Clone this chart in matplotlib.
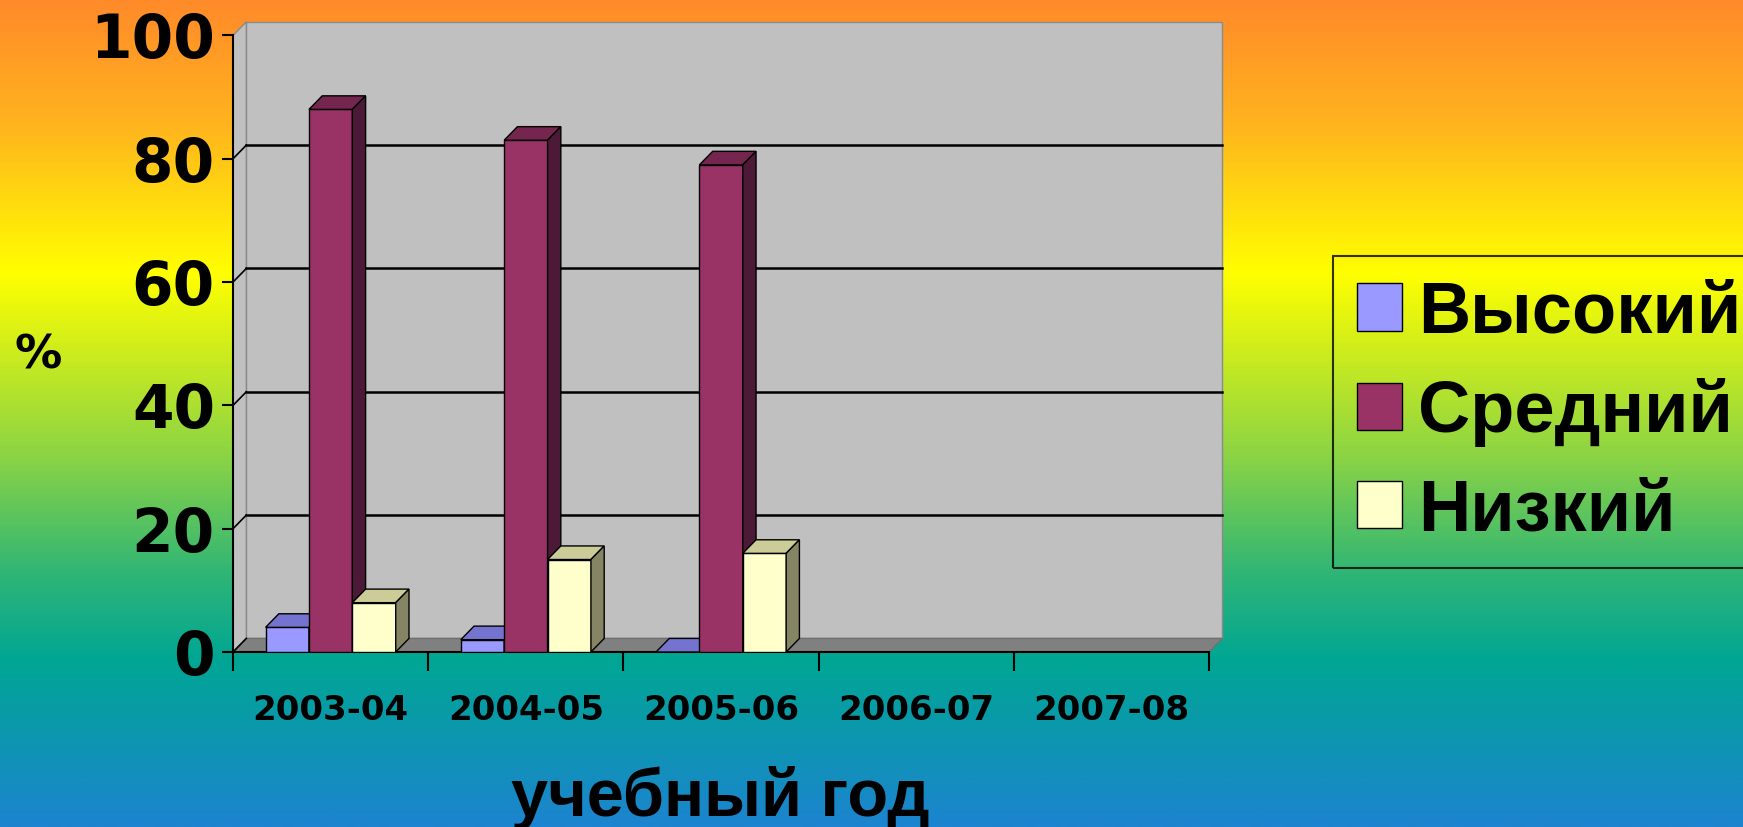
import numpy as np
import matplotlib
matplotlib.use("Agg")
import matplotlib.pyplot as plt
from matplotlib.colors import LinearSegmentedColormap
from matplotlib.patches import Polygon, Rectangle

# --- data ---
years = ["2003-04", "2004-05", "2005-06", "2006-07", "2007-08"]
series_names = ["Высокий", "Средний", "Низкий"]
high = [4, 2, 0, np.nan, np.nan]
medium = [88, 83, 79, np.nan, np.nan]
low = [8, 15, 16, np.nan, np.nan]
y_ticks = [0, 20, 40, 60, 80, 100]

# --- style ---
front_colors = ["#9999FF", "#993366", "#FFFFCC"]
top_colors = ["#7474D0", "#74264E", "#CCCC99"]
side_colors = ["#5C5CA8", "#4C1A36", "#858566"]
wall_color = "#C0C0C0"
floor_color = "#808080"
bg_stops = [(0.0, "#FF8A2A"), (0.15, "#FFB41E"), (0.33, "#FFFF00"),
            (0.55, "#8CD444"), (0.7, "#2CB478"), (0.8, "#00A694"),
            (1.0, "#1C84D0")]

dx, dy = 0.068, 2.2
bar_w = 1.0 / 3 * (1 - 1 / 3)  # three bars, 50% gap

plt.rcParams["font.family"] = ["Liberation Sans", "DejaVu Sans"]
plt.rcParams["font.weight"] = "bold"
wide = ["DejaVu Sans"]

fig = plt.figure(figsize=(17.43, 8.27), dpi=100)

# gradient background
bg = fig.add_axes([0, 0, 1, 1], zorder=-10)
cmap = LinearSegmentedColormap.from_list("bg", bg_stops)
bg.imshow(np.linspace(0, 1, 512).reshape(-1, 1), aspect="auto", cmap=cmap,
          extent=[0, 1, 0, 1])
bg.axis("off")

ax = fig.add_axes([0.1337, 0.2116, 0.56, 0.762])
ax.set_facecolor("none")
n = len(years)
x0, x1 = -0.5, n - 0.5
ymax = y_ticks[-1]
ax.set_xlim(x0, x1)
ax.set_ylim(0, ymax + dy)

# walls and floor
ax.add_patch(Rectangle((x0 + dx, dy), x1 - x0, ymax, facecolor=wall_color,
                       edgecolor="#8A8A8A", lw=1, zorder=0, clip_on=False))
ax.add_patch(Polygon([(x0, 0), (x0, ymax), (x0 + dx, ymax + dy), (x0 + dx, dy)],
                     closed=True, facecolor=wall_color, edgecolor="#8A8A8A",
                     lw=1, zorder=0, clip_on=False))
ax.add_patch(Polygon([(x0, 0), (x1, 0), (x1 + dx, dy), (x0 + dx, dy)],
                     closed=True, facecolor=floor_color, edgecolor="#707070",
                     lw=1, zorder=0.5, clip_on=False))
for t in y_ticks[1:-1]:
    ax.plot([x0 + dx, x1 + dx], [t + dy, t + dy], color="black", lw=1.8,
            zorder=0.6, clip_on=False)
for t in y_ticks[:-1]:
    ax.plot([x0, x0 + dx], [t, t + dy], color="black", lw=1.2, zorder=0.6,
            clip_on=False)

# bars
x = np.arange(n)
for k, vals in enumerate([high, medium, low]):
    xs = x - 1.5 * bar_w + k * bar_w
    for xi, v in zip(xs, vals):
        if np.isnan(v):
            continue
        z = 3 + k
        ax.add_patch(Rectangle((xi, 0), bar_w, v, facecolor=front_colors[k],
                               edgecolor="black", lw=1, zorder=z))
        ax.add_patch(Polygon([(xi, v), (xi + bar_w, v),
                              (xi + bar_w + dx, v + dy), (xi + dx, v + dy)],
                             closed=True, facecolor=top_colors[k],
                             edgecolor="black", lw=1, zorder=z))
        ax.add_patch(Polygon([(xi + bar_w, 0), (xi + bar_w, v),
                              (xi + bar_w + dx, v + dy), (xi + bar_w + dx, dy)],
                             closed=True, facecolor=side_colors[k],
                             edgecolor="black", lw=1, zorder=z))

# axes
for s in ["top", "right"]:
    ax.spines[s].set_visible(False)
ax.spines["left"].set_bounds(0, ymax)
ax.spines["bottom"].set_bounds(x0, x1)
ax.spines["left"].set_linewidth(1.5)
ax.spines["bottom"].set_linewidth(1.5)
ax.set_yticks(y_ticks)
ax.set_yticklabels([str(t) for t in y_ticks], fontsize=43, fontweight="bold",
                   family=wide)
ax.tick_params(axis="y", length=8, width=1.5, pad=5)
ax.set_xticks(np.arange(n + 1) - 0.5)
ax.set_xticklabels([])
ax.tick_params(axis="x", which="major", length=14, width=1.5)
ax.set_xticks(x, minor=True)
ax.set_xticklabels(years, minor=True, fontsize=24.5, fontweight="bold",
                   family=wide)
ax.tick_params(axis="x", which="minor", length=0, pad=30)

fig.text(0.022, 0.57, "%", fontsize=34, fontweight="bold", ha="center",
         va="center", family=wide)
fig.text(0.413, 0.035, "учебный год", fontsize=48, fontweight="bold",
         ha="center", va="center")

handles = [Rectangle((0, 0), 1, 1, facecolor=c, edgecolor="black", lw=1)
           for c in front_colors]
leg = fig.legend(handles, series_names, loc="upper left",
                 bbox_to_anchor=(0.765, 0.69), bbox_transform=fig.transFigure,
                 prop={"weight": "bold", "size": 52}, borderaxespad=0,
                 handlelength=0.63, handleheight=0.63, handletextpad=0.22,
                 labelspacing=0.42, borderpad=0.32, frameon=True, fancybox=False)
leg.get_frame().set_facecolor("none")
leg.get_frame().set_edgecolor("black")
leg.get_frame().set_linewidth(1.5)

fig.savefig("out.png", dpi=100)
